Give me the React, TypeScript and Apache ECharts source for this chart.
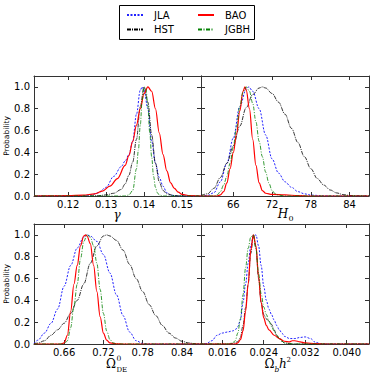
import React, { useEffect, useRef } from 'react';
import * as echarts from 'echarts';

const seriesNames = ['JLA', 'HST', 'BAO', 'JGBH'];
const yTicks = [0, 0.2, 0.4, 0.6, 0.8, 1.0];
const gammaTicks = [0.12, 0.13, 0.14, 0.15];
const h0Ticks = [66, 72, 78, 84];
const omegaDETicks = [0.66, 0.72, 0.78, 0.84];
const omegaBTicks = [0.016, 0.024, 0.032, 0.040];

// gamma panel
const gammaJLA = [[0.111,0],[0.122,0],[0.124,0.003],[0.126,0.01],[0.128,0.03],[0.130,0.08],[0.132,0.18],[0.134,0.27],[0.135,0.32],[0.136,0.38],[0.137,0.5],[0.138,0.75],[0.139,0.97],[0.1395,1.0],[0.140,0.97],[0.141,0.8],[0.142,0.5],[0.143,0.3],[0.144,0.17],[0.145,0.09],[0.146,0.03],[0.147,0.008],[0.149,0],[0.155,0]];
const gammaHST = [[0.111,0],[0.126,0],[0.128,0.003],[0.130,0.01],[0.132,0.025],[0.134,0.06],[0.135,0.11],[0.136,0.19],[0.137,0.31],[0.138,0.52],[0.139,0.82],[0.140,1.0],[0.141,0.86],[0.142,0.56],[0.143,0.3],[0.144,0.13],[0.145,0.05],[0.146,0.02],[0.148,0.003],[0.150,0],[0.155,0]];
const gammaBAO = [[0.111,0],[0.116,0.001],[0.120,0.003],[0.124,0.008],[0.127,0.02],[0.129,0.045],[0.131,0.09],[0.133,0.16],[0.135,0.28],[0.136,0.37],[0.137,0.5],[0.138,0.65],[0.139,0.8],[0.140,0.94],[0.141,1.0],[0.142,0.96],[0.143,0.8],[0.144,0.58],[0.145,0.38],[0.146,0.23],[0.147,0.12],[0.148,0.07],[0.149,0.035],[0.150,0.015],[0.152,0.004],[0.155,0]];
const gammaJGBH = [[0.111,0],[0.135,0],[0.136,0.01],[0.137,0.05],[0.138,0.25],[0.1385,0.42],[0.139,0.65],[0.1395,0.88],[0.140,1.0],[0.1405,0.98],[0.141,0.82],[0.1415,0.58],[0.142,0.36],[0.1425,0.18],[0.143,0.08],[0.1435,0.03],[0.144,0.01],[0.145,0],[0.155,0]];

// H0 panel
const h0JLA = [[61,0],[62,0.005],[63,0.03],[64,0.13],[65,0.3],[66,0.53],[67,0.82],[68,0.98],[68.4,1.0],[69,0.96],[70,0.8],[71,0.56],[72,0.34],[73,0.21],[74,0.13],[75,0.08],[76,0.04],[77,0.02],[78,0.008],[80,0.002],[82,0],[87,0]];
const h0HST = [[61,0.005],[62,0.02],[63,0.07],[64,0.17],[65,0.3],[66,0.46],[67,0.64],[68,0.81],[69,0.93],[70,0.99],[70.5,1.0],[71,0.99],[72,0.94],[73,0.86],[74,0.75],[75,0.62],[76,0.49],[77,0.36],[78,0.25],[79,0.16],[80,0.1],[81,0.055],[82,0.028],[83,0.013],[84,0.005],[85,0.002],[87,0]];
const h0BAO = [[61,0],[63.5,0],[64,0.01],[64.5,0.04],[65,0.12],[65.5,0.25],[66,0.4],[66.5,0.57],[67,0.78],[67.5,0.96],[67.8,1.0],[68,0.97],[68.5,0.8],[69,0.52],[69.5,0.28],[70,0.12],[70.5,0.05],[71,0.025],[72,0.015],[74,0.01],[76,0.004],[78,0],[87,0]];
const h0JGBH = [[61,0],[63,0],[63.5,0.01],[64,0.04],[64.5,0.1],[65,0.18],[65.5,0.3],[66,0.45],[66.5,0.63],[67,0.82],[67.5,0.95],[68,1.0],[68.5,0.96],[69,0.85],[69.5,0.68],[70,0.5],[70.5,0.36],[71,0.22],[71.5,0.12],[72,0.05],[72.5,0.02],[73,0.008],[74,0],[87,0]];

// Omega_DE panel
const deJLA = [[0.614,0.005],[0.62,0.035],[0.63,0.1],[0.64,0.19],[0.65,0.32],[0.66,0.53],[0.67,0.72],[0.68,0.88],[0.69,0.98],[0.695,1.0],[0.70,0.99],[0.71,0.94],[0.72,0.82],[0.73,0.65],[0.74,0.45],[0.75,0.26],[0.76,0.11],[0.77,0.03],[0.78,0.005],[0.79,0],[0.869,0]];
const deHST = [[0.614,0.002],[0.62,0.008],[0.63,0.03],[0.64,0.08],[0.65,0.13],[0.66,0.19],[0.67,0.28],[0.68,0.4],[0.69,0.55],[0.70,0.74],[0.71,0.9],[0.72,0.99],[0.725,1.0],[0.73,0.99],[0.74,0.95],[0.75,0.86],[0.76,0.73],[0.77,0.6],[0.78,0.48],[0.79,0.36],[0.80,0.26],[0.81,0.17],[0.82,0.1],[0.83,0.055],[0.84,0.025],[0.85,0.01],[0.86,0.003],[0.869,0]];
const deBAO = [[0.614,0],[0.655,0],[0.66,0.01],[0.665,0.08],[0.67,0.3],[0.675,0.55],[0.68,0.72],[0.685,0.9],[0.69,0.99],[0.693,1.0],[0.695,0.99],[0.70,0.92],[0.705,0.72],[0.71,0.48],[0.715,0.25],[0.72,0.1],[0.725,0.035],[0.73,0.01],[0.74,0.002],[0.75,0],[0.869,0]];
const deJGBH = [[0.614,0],[0.66,0],[0.665,0.03],[0.67,0.15],[0.675,0.35],[0.68,0.55],[0.685,0.78],[0.69,0.94],[0.695,1.0],[0.70,0.98],[0.705,0.9],[0.71,0.74],[0.715,0.5],[0.72,0.28],[0.725,0.12],[0.73,0.04],[0.735,0.01],[0.74,0],[0.869,0]];

// Omega_b h^2 panel
const obJLA = [[0.0119,0],[0.013,0.005],[0.014,0.03],[0.015,0.08],[0.016,0.1],[0.017,0.11],[0.018,0.12],[0.0185,0.13],[0.019,0.16],[0.0195,0.22],[0.020,0.38],[0.0205,0.55],[0.021,0.74],[0.0215,0.9],[0.022,0.99],[0.0225,1.0],[0.023,0.9],[0.0235,0.72],[0.024,0.53],[0.0245,0.4],[0.025,0.32],[0.0255,0.27],[0.026,0.22],[0.0265,0.17],[0.027,0.13],[0.0275,0.1],[0.028,0.07],[0.029,0.05],[0.030,0.05],[0.031,0.06],[0.032,0.065],[0.033,0.05],[0.034,0.015],[0.035,0.003],[0.036,0],[0.0443,0]];
const obHST = [[0.0119,0],[0.017,0],[0.018,0.005],[0.019,0.02],[0.0195,0.06],[0.020,0.17],[0.0205,0.33],[0.021,0.55],[0.0215,0.83],[0.022,1.0],[0.0225,0.88],[0.023,0.6],[0.0235,0.38],[0.024,0.27],[0.0245,0.23],[0.025,0.21],[0.0255,0.18],[0.026,0.13],[0.0265,0.08],[0.027,0.05],[0.0275,0.025],[0.028,0.01],[0.029,0.003],[0.030,0],[0.0443,0]];
const obBAO = [[0.0119,0],[0.0185,0],[0.019,0.01],[0.0195,0.04],[0.020,0.12],[0.0205,0.3],[0.021,0.55],[0.0215,0.86],[0.022,1.0],[0.0225,0.9],[0.023,0.62],[0.0235,0.38],[0.024,0.24],[0.0245,0.17],[0.025,0.13],[0.026,0.08],[0.027,0.05],[0.028,0.025],[0.029,0.02],[0.0295,0.03],[0.030,0.03],[0.031,0.02],[0.032,0.01],[0.034,0.004],[0.036,0],[0.0443,0]];
const obJGBH = [[0.0119,0],[0.017,0],[0.018,0.01],[0.0185,0.03],[0.019,0.1],[0.0195,0.23],[0.020,0.45],[0.0205,0.7],[0.021,0.88],[0.0215,0.98],[0.022,1.0],[0.0225,0.87],[0.023,0.65],[0.0235,0.46],[0.024,0.34],[0.0245,0.27],[0.025,0.21],[0.0255,0.16],[0.026,0.12],[0.0265,0.08],[0.027,0.05],[0.0275,0.025],[0.028,0.01],[0.029,0.003],[0.030,0],[0.0443,0]];

const AX = '#333';
const FONT = 'DejaVu Sans';
const SERIF = 'DejaVu Serif';

const lineStyles: Record<string, any> = {
  JLA: { color: '#2222ff', width: 1, type: [2, 1.5] },
  HST: { color: '#000000', width: 0.8, type: [4, 1, 1, 1] },
  BAO: { color: '#ff0000', width: 1.2, type: 'solid' },
  JGBH: { color: '#008000', width: 0.8, type: [4, 1.5, 1, 1.5] },
};

export default function App() {
  const ref = useRef<HTMLDivElement>(null);
  useEffect(() => {
    if (!ref.current) return;
    const chart = echarts.init(ref.current, undefined, { renderer: 'svg' });
    const panels = [
      { grid: { left: 34, top: 76, width: 167, height: 120 }, min: 0.111, max: 0.155, ticks: gammaTicks, dec: 2, left: true, data: [gammaJLA, gammaHST, gammaBAO, gammaJGBH] },
      { grid: { left: 201, top: 76, width: 168, height: 120 }, min: 61, max: 87, ticks: h0Ticks, dec: 0, left: false, data: [h0JLA, h0HST, h0BAO, h0JGBH] },
      { grid: { left: 34, top: 224, width: 167, height: 120 }, min: 0.614, max: 0.869, ticks: omegaDETicks, dec: 2, left: true, data: [deJLA, deHST, deBAO, deJGBH] },
      { grid: { left: 201, top: 224, width: 168, height: 120 }, min: 0.0119, max: 0.0443, ticks: omegaBTicks, dec: 3, left: false, data: [obJLA, obHST, obBAO, obJGBH] },
    ];
    const axisLine = { show: true, onZero: false, lineStyle: { color: AX, width: 1 } };
    const grids: any[] = [];
    const xAxes: any[] = [];
    const yAxes: any[] = [];
    const series: any[] = [];
    panels.forEach((p, i) => {
      grids.push({ ...p.grid, containLabel: false });
      const tick = (vals: number[]) => ({ show: true, inside: true, length: 4, customValues: vals, lineStyle: { color: AX, width: 1 } });
      xAxes.push({
        gridIndex: i, type: 'value', min: p.min, max: p.max, position: 'bottom',
        axisLine, axisTick: tick(p.ticks), splitLine: { show: false },
        axisLabel: { show: true, customValues: p.ticks, formatter: (v: number) => v.toFixed(p.dec), color: '#000', fontSize: 10, fontFamily: FONT, margin: 3 },
      });
      xAxes.push({
        gridIndex: i, type: 'value', min: p.min, max: p.max, position: 'top',
        axisLine, axisTick: tick(p.ticks), splitLine: { show: false }, axisLabel: { show: false },
      });
      yAxes.push({
        gridIndex: i, type: 'value', min: 0, max: 1.1, position: 'left',
        axisLine, axisTick: tick(yTicks), splitLine: { show: false },
        axisLabel: { show: p.left, customValues: yTicks, formatter: (v: number) => v.toFixed(1), color: '#000', fontSize: 10, fontFamily: FONT, margin: 4 },
        name: p.left ? 'Probability' : '', nameLocation: 'middle', nameGap: 22,
        nameTextStyle: { fontSize: 7.5, fontFamily: FONT, color: '#000' },
      });
      yAxes.push({
        gridIndex: i, type: 'value', min: 0, max: 1.1, position: 'right',
        axisLine, axisTick: tick(yTicks), splitLine: { show: false }, axisLabel: { show: false },
      });
      seriesNames.forEach((name, k) => {
        series.push({
          type: 'line', name, xAxisIndex: 2 * i, yAxisIndex: 2 * i, data: p.data[k],
          smooth: 0.35, smoothMonotone: 'x', symbol: 'none', showSymbol: false,
          lineStyle: lineStyles[name], itemStyle: { color: lineStyles[name].color },
          clip: true, z: 2 + k,
        });
      });
    });
    const legendBase = {
      orient: 'vertical', itemWidth: 16, itemHeight: 10, itemGap: 2.5,
      itemStyle: { opacity: 0, borderWidth: 0 },
      textStyle: { fontSize: 10, fontFamily: FONT, color: '#000', lineHeight: 12, padding: [0, 0, 0, 6] },
      top: 9, padding: 0,
    };
    const txt = (text: string, x: number, y: number, size: number, italic: boolean, align = 'left') => ({
      type: 'text', x, y,
      style: { text, fontSize: size, fontFamily: SERIF, fontStyle: italic ? 'italic' : 'normal', fill: '#000', align, verticalAlign: 'middle' },
    });
    chart.setOption({
      animation: false,
      backgroundColor: '#fff',
      grid: grids,
      xAxis: xAxes,
      yAxis: yAxes,
      series,
      legend: [
        { ...legendBase, left: 126, data: ['JLA', 'HST'] },
        { ...legendBase, left: 197, data: ['BAO', 'JGBH'] },
      ],
      graphic: [
        { type: 'rect', shape: { x: 119.5, y: 5.5, width: 135, height: 34 }, style: { fill: 'none', stroke: '#000', lineWidth: 1 } },
        txt('γ', 117, 215, 12, true, 'center'),
        txt('H', 283, 214, 12, true, 'center'),
        txt('0', 288.5, 218.5, 8, false),
        txt('Ω', 111, 364, 12, false, 'center'),
        txt('0', 116.5, 358.5, 7.5, false),
        txt('DE', 116.5, 369.5, 7, false),
        txt('Ω', 269.5, 364, 12, false, 'center'),
        txt('b', 274.5, 369, 7.5, true),
        txt('h', 279, 364, 12, true),
        txt('2', 286.5, 359.5, 7, false),
      ],
    });
    return () => chart.dispose();
  }, []);
  return <div ref={ref} style={{ position: 'absolute', left: 0, top: 0, width: 374, height: 376, background: '#fff' }} />;
}
